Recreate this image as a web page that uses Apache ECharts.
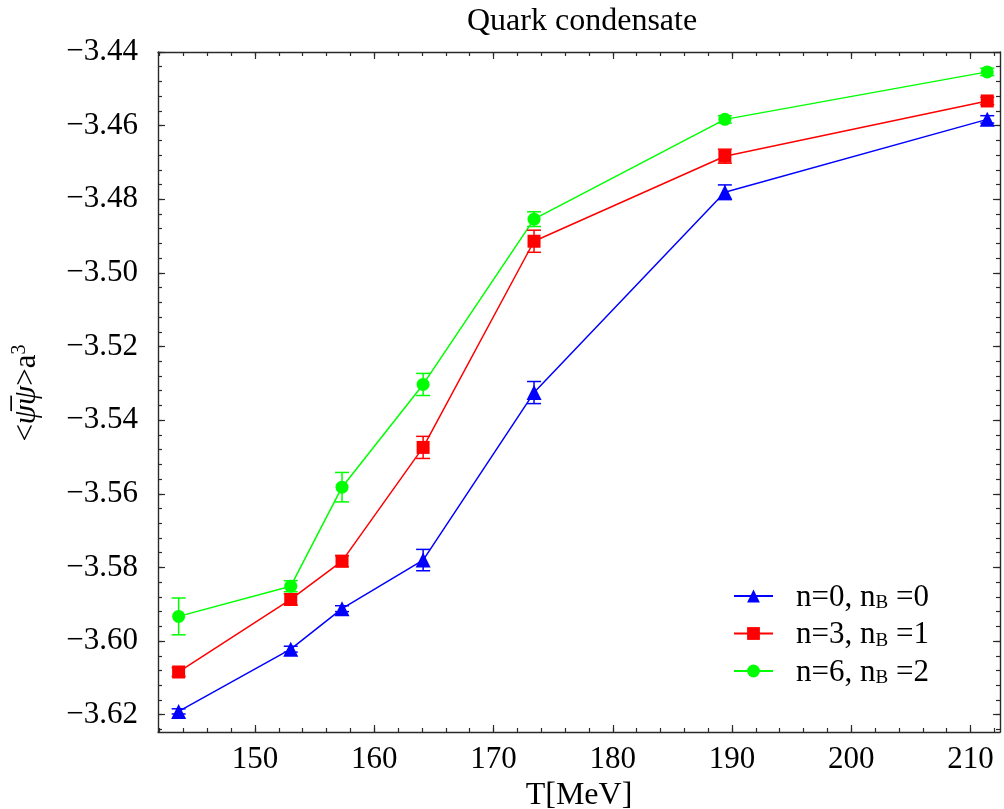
<!DOCTYPE html>
<html>
<head>
<meta charset="utf-8">
<script src="https://cdn.jsdelivr.net/npm/echarts@6/dist/echarts.min.js"></script>
<style>
  html, body { margin: 0; padding: 0; background: #ffffff; }
  #chart { width: 1004px; height: 809px; }
</style>
</head>
<body>
<div id="chart"></div>
<script>
// Temperatures T[MeV] of the simulation points
const temperatures = [143.6, 153.0, 157.3, 164.1, 173.4, 189.4, 211.4];

// Quark condensate <psibar psi> a^3 and its statistical errors
const condN0 = [-3.6191, -3.6022, -3.5912, -3.5780, -3.5325, -3.4781, -3.4583];
const errN0  = [0.0007, 0.0008, 0.0008, 0.0029, 0.0030, 0.0020, 0.0010];
const condN3 = [-3.6084, -3.5887, -3.5783, -3.5474, -3.4914, -3.4683, -3.4533];
const errN3  = [0.0012, 0.0015, 0.0015, 0.0030, 0.0030, 0.0019, 0.0010];
const condN6 = [-3.5933, -3.5851, -3.5582, -3.5303, -3.4854, -3.4583, -3.4454];
const errN6  = [0.0050, 0.0015, 0.0040, 0.0030, 0.0020, 0.0010, 0.0010];

const seriesNames = ['n=0, n_B =0', 'n=3, n_B =1', 'n=6, n_B =2'];

// Axis ticks
const xMajorTicks = [150, 160, 170, 180, 190, 200, 210];
const yMajorTicks = [-3.62, -3.60, -3.58, -3.56, -3.54, -3.52, -3.50, -3.48, -3.46, -3.44];

const X_MIN = 141.87, X_MAX = 212.47;
const Y_MIN = -3.6247, Y_MAX = -3.44;

function stepTicks(start, end, step) {
  const out = [];
  const n = Math.floor((end - start) / step + 1e-6);
  for (let i = 0; i <= n; i++) out.push(+(start + i * step).toFixed(4));
  return out;
}
const xMinorTicks = stepTicks(142, 212, 2);
const yMinorTicks = stepTicks(-3.624, -3.44, 0.004);

const FONT = 'Liberation Serif';
const FRAME = '#2a2a2a';

function xAxisDef(position, ticks, len, withLine, withLabels) {
  return {
    type: 'value', position: position, min: X_MIN, max: X_MAX,
    axisLine: { show: withLine, lineStyle: { color: FRAME, width: 1.4 } },
    axisTick: { show: true, inside: true, length: len, customValues: ticks,
                lineStyle: { color: FRAME, width: 1.2 } },
    axisLabel: withLabels ? {
      show: true, customValues: xMajorTicks, margin: 12,
      fontFamily: FONT, fontSize: 31, color: '#000',
      formatter: v => String(Math.round(v))
    } : { show: false },
    splitLine: { show: false }
  };
}
function yAxisDef(position, ticks, len, withLine, withLabels) {
  return {
    type: 'value', position: position, min: Y_MIN, max: Y_MAX,
    axisLine: { show: withLine, lineStyle: { color: FRAME, width: 1.4 } },
    axisTick: { show: true, inside: true, length: len, customValues: ticks,
                lineStyle: { color: FRAME, width: 1.2 } },
    axisLabel: withLabels ? {
      show: true, customValues: yMajorTicks, margin: 20,
      fontFamily: FONT, fontSize: 31, color: '#000',
      formatter: v => '\u2212' + Math.abs(v).toFixed(2)
    } : { show: false },
    splitLine: { show: false }
  };
}

function lineSeries(name, color, symbol, size, values) {
  return {
    type: 'line', name: name, xAxisIndex: 0, yAxisIndex: 0,
    data: temperatures.map((t, i) => [t, values[i]]),
    symbol: symbol, symbolSize: size, showSymbol: true,
    lineStyle: { color: color, width: 1.5 },
    itemStyle: { color: color },
    z: 2, animation: false
  };
}

function errorSeries(name, color, values, errs) {
  return {
    type: 'custom', name: name + ' error', xAxisIndex: 0, yAxisIndex: 0,
    data: temperatures.map((t, i) => [t, values[i] - errs[i], values[i] + errs[i]]),
    encode: { x: 0, y: [1, 2] },
    renderItem: function (params, api) {
      const x = api.value(0);
      const lo = api.coord([x, api.value(1)]);
      const hi = api.coord([x, api.value(2)]);
      const w = 7;
      const st = { stroke: color, lineWidth: 1.5, fill: null };
      return {
        type: 'group',
        children: [
          { type: 'line', shape: { x1: lo[0], y1: lo[1], x2: hi[0], y2: hi[1] }, style: st },
          { type: 'line', shape: { x1: lo[0] - w, y1: lo[1], x2: lo[0] + w, y2: lo[1] }, style: st },
          { type: 'line', shape: { x1: hi[0] - w, y1: hi[1], x2: hi[0] + w, y2: hi[1] }, style: st }
        ]
      };
    },
    z: 3, animation: false
  };
}

const chart = echarts.init(document.getElementById('chart'), null, { renderer: 'canvas' });

chart.setOption({
  backgroundColor: '#ffffff',
  animation: false,
  title: {
    text: 'Quark condensate', left: 467, top: 6, padding: 0,
    textStyle: { fontFamily: FONT, fontSize: 32, fontWeight: 'normal', color: '#000' }
  },
  grid: { left: 158, right: 4, top: 52, bottom: 77, containLabel: false, outerBoundsMode: 'none' },
  xAxis: [
    Object.assign(xAxisDef('bottom', xMajorTicks, 7, true, true), {
      name: 'T[MeV]', nameLocation: 'middle', nameGap: 46,
      nameTextStyle: { fontFamily: FONT, fontSize: 32, color: '#000' }
    }),
    xAxisDef('bottom', xMinorTicks, 4, false, false),
    xAxisDef('top', xMajorTicks, 7, true, false),
    xAxisDef('top', xMinorTicks, 4, false, false)
  ],
  yAxis: [
    yAxisDef('left', yMajorTicks, 7, true, true),
    yAxisDef('left', yMinorTicks, 4, false, false),
    yAxisDef('right', yMajorTicks, 7, true, false),
    yAxisDef('right', yMinorTicks, 4, false, false)
  ],
  legend: {
    data: seriesNames, orient: 'vertical', left: 733, top: 582, padding: 0,
    itemWidth: 39, itemHeight: 16, itemGap: 6.5,
    formatter: name => '{t|' + name.replace('_B', '}{s|B}{t|') + '}',
    textStyle: {
      padding: [0, 0, 0, 18],
      rich: {
        t: { fontFamily: FONT, fontSize: 31, color: '#000', lineHeight: 34, verticalAlign: 'bottom' },
        s: { fontFamily: FONT, fontSize: 19, color: '#000', lineHeight: 16, verticalAlign: 'bottom' }
      }
    }
  },
  graphic: [{
    type: 'text', x: 27, y: 393, rotation: Math.PI / 2,
    style: {
      text: '{n|<}{i|\u03C8\u0305\u03C8}{n|>a}{p|3}',
      align: 'center', verticalAlign: 'middle',
      rich: {
        n: { fontFamily: FONT, fontSize: 31, fill: '#000', lineHeight: 34, verticalAlign: 'middle' },
        i: { fontFamily: FONT, fontSize: 31, fontStyle: 'italic', fill: '#000', lineHeight: 34, verticalAlign: 'middle' },
        p: { fontFamily: FONT, fontSize: 20, fill: '#000', lineHeight: 18, verticalAlign: 'top' }
      }
    }
  }],
  series: [
    lineSeries(seriesNames[0], '#0000ff', 'triangle', 15, condN0),
    lineSeries(seriesNames[1], '#ff0000', 'rect', 13, condN3),
    lineSeries(seriesNames[2], '#00ff00', 'circle', 13, condN6),
    errorSeries(seriesNames[0], '#0000ff', condN0, errN0),
    errorSeries(seriesNames[1], '#ff0000', condN3, errN3),
    errorSeries(seriesNames[2], '#00ff00', condN6, errN6)
  ]
});
</script>
</body>
</html>
